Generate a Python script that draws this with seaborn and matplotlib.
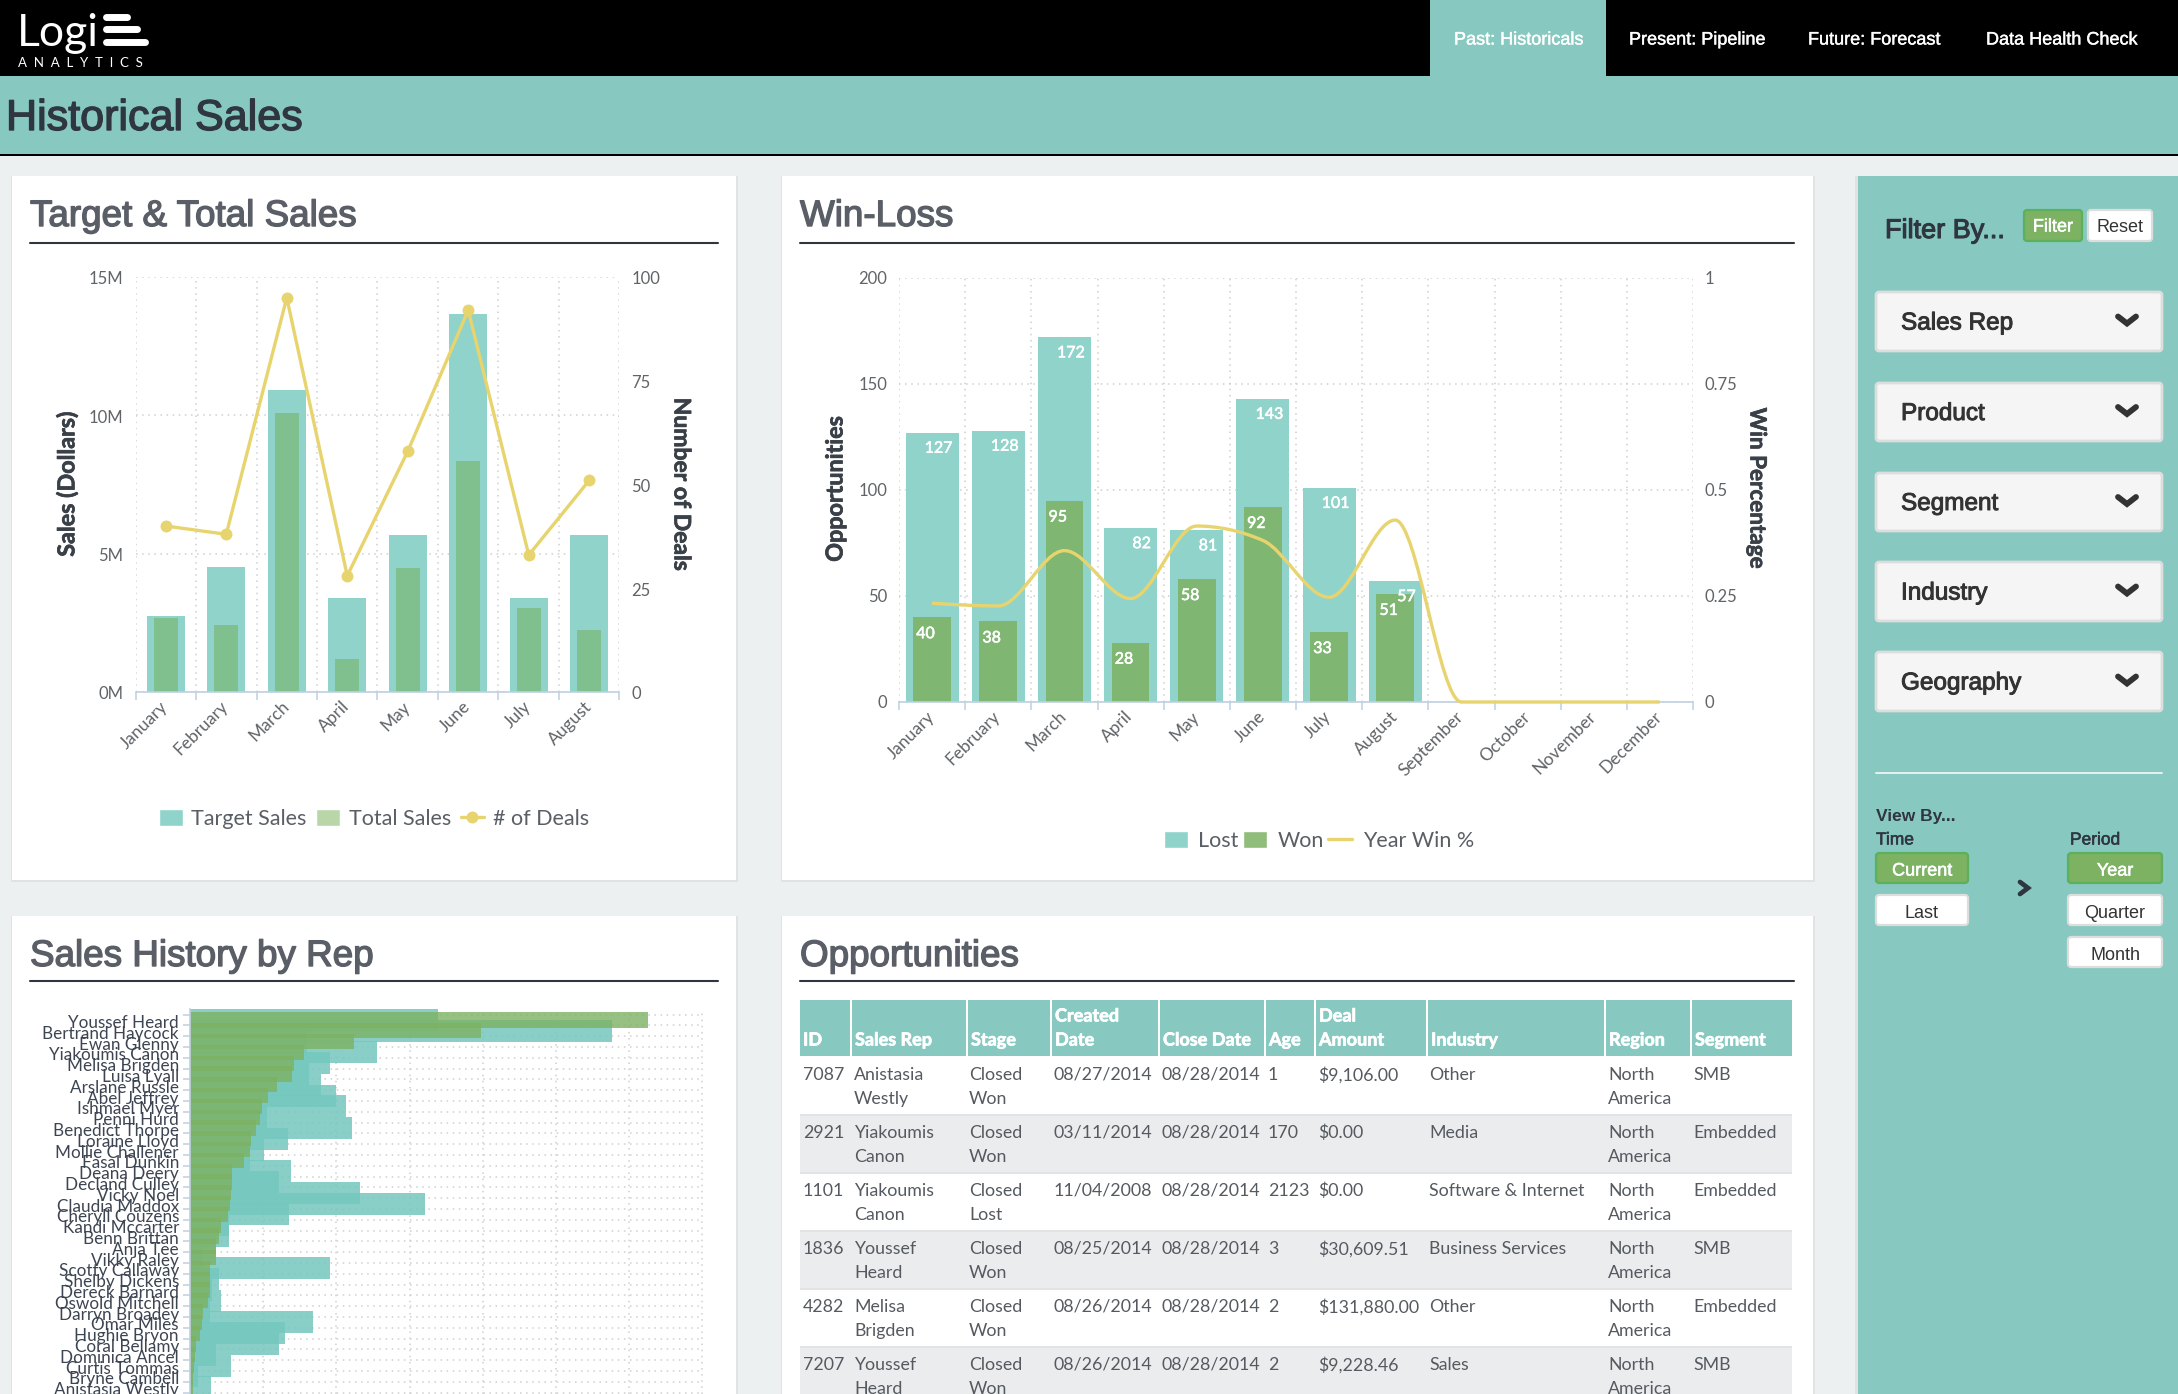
import numpy as np
import pandas as pd
import matplotlib
matplotlib.use("Agg")
import matplotlib.pyplot as plt
import matplotlib.patheffects as pe
from matplotlib.patches import Rectangle, FancyBboxPatch, Patch, PathPatch
from matplotlib.path import Path
from matplotlib.lines import Line2D
from matplotlib.transforms import ScaledTranslation
import seaborn as sns

# ---------- data ----------
months = ["January", "February", "March", "April", "May", "June", "July", "August",
          "September", "October", "November", "December"]
target_sales = [2.73, 4.51, 10.93, 3.38, 5.67, 13.66, 3.38, 5.67]
total_sales = [2.69, 2.41, 10.10, 1.19, 4.47, 8.36, 3.02, 2.25]
num_deals = [40, 38, 95, 28, 58, 92, 33, 51]
lost = [127, 128, 172, 82, 81, 143, 101, 57, 0, 0, 0, 0]
won = [40, 38, 95, 28, 58, 92, 33, 51, 0, 0, 0, 0]
win_pct = [0.233, 0.2265, 0.357, 0.244, 0.415, 0.381, 0.247, 0.429, 0, 0, 0, 0]
reps = ["Youssef Heard", "Bertrand Haycock", "Ewan Glenny", "Yiakoumis Canon", "Melisa Brigden",
        "Luisa Lyall", "Arslane Russle", "Abel Jeffrey", "Ishmael Myer", "Penni Hurd",
        "Benedict Thorpe", "Loraine Lloyd", "Mollie Challener", "Fasal Dunkin", "Deana Deery",
        "Decland Culley", "Vicky Noel", "Claudia Maddox", "Cheryll Couzens", "Kandi Mccarter",
        "Benn Brittan", "Anja Tee", "Vikky Raley", "Scotty Callaway", "Shelby Dickens",
        "Dereck Barnard", "Oswold Mitchell", "Darryn Broadey", "Omar Miles", "Hughie Bryon",
        "Coral Bellamy", "Dominica Ancel", "Curtis Tommas", "Bryne Cambell", "Anistasia Westly"]
rep_target = [6.77, 11.54, 3.19, 5.10, 3.82, 3.25, 3.57, 3.99, 4.26, 2.10, 4.43, 2.67, 2.01, 1.64,
              2.76, 2.43, 4.65, 6.41, 2.71, 1.06, 1.07, 0.71, 0.35, 3.82, 0.79, 0.61, 0.86, 0.54,
              3.37, 2.59, 2.43, 0.71, 1.11, 0.21, 0.57]
rep_total = [12.52, 7.96, 4.48, 3.12, 2.84, 2.80, 2.39, 2.14, 1.97, 1.90, 1.81, 1.68, 1.65, 1.48,
             1.16, 1.16, 1.12, 1.08, 1.03, 0.84, 0.80, 0.71, 0.71, 0.54, 0.54, 0.54, 0.50, 0.35,
             0.32, 0.28, 0.17, 0.13, 0.12, 0.09, 0.08]
table_header = ["ID", "Sales Rep", "Stage", "Created\nDate", "Close Date", "Age", "Deal\nAmount",
                "Industry", "Region", "Segment"]
table_rows = [
    ["7087", "Anistasia\nWestly", "Closed\nWon", "08/27/2014", "08/28/2014", "1", "$9,106.00",
     "Other", "North\nAmerica", "SMB"],
    ["2921", "Yiakoumis\nCanon", "Closed\nWon", "03/11/2014", "08/28/2014", "170", "$0.00",
     "Media", "North\nAmerica", "Embedded"],
    ["1101", "Yiakoumis\nCanon", "Closed\nLost", "11/04/2008", "08/28/2014", "2123", "$0.00",
     "Software & Internet", "North\nAmerica", "Embedded"],
    ["1836", "Youssef\nHeard", "Closed\nWon", "08/25/2014", "08/28/2014", "3", "$30,609.51",
     "Business Services", "North\nAmerica", "SMB"],
    ["4282", "Melisa\nBrigden", "Closed\nWon", "08/26/2014", "08/28/2014", "2", "$131,880.00",
     "Other", "North\nAmerica", "Embedded"],
    ["7207", "Youssef\nHeard", "Closed\nWon", "08/26/2014", "08/28/2014", "2", "$9,228.46",
     "Sales", "North\nAmerica", "SMB"],
]
nav_items = ["Past: Historicals", "Present: Pipeline", "Future: Forecast", "Data Health Check"]
filters = ["Sales Rep", "Product", "Segment", "Industry", "Geography"]

# ---------- style ----------
W, H = 2178, 1394
TEAL = "#87C9C1"
BG = "#ECF0F1"
DARK = "#2F3640"
TITLE = "#5A5E66"
GRID = "#CFCFCF"
AXIS = "#C0D0E0"
TICK = "#606468"
BAR_TEAL = "#8FD3CB"
GREEN = "#73AD53"
WON = "#7DB263"
YEL = "#E8D46F"

sns.set_theme(style="white")
plt.rcParams["font.family"] = ["Lato", "DejaVu Sans"]
HV = ["Liberation Sans", "DejaVu Sans"]
DOT = (0, (1, 3))

fig = plt.figure(figsize=(W / 100, H / 100), dpi=100, facecolor=BG)


def axpx(l, t, r, b):
    a = fig.add_axes([l / W, 1 - b / H, (r - l) / W, (b - t) / H])
    a.patch.set_alpha(0)
    return a


ov = fig.add_axes([0, 0, 1, 1], zorder=0)
ov.set_xlim(0, W)
ov.set_ylim(H, 0)
ov.axis("off")


def rect(x0, y0, x1, y1, fc, ec="none", lw=0, z=1):
    ov.add_patch(Rectangle((x0, y0), x1 - x0, y1 - y0, fc=fc, ec=ec, lw=lw, zorder=z))


def rbox(x0, y0, x1, y1, fc, ec, lw=1.6, r=3, z=2):
    ov.add_patch(FancyBboxPatch((x0 + r, y0 + r), x1 - x0 - 2 * r, y1 - y0 - 2 * r,
                                boxstyle=f"round,pad={r},rounding_size={r}", fc=fc, ec=ec, lw=lw, zorder=z))


def htext(x, y, s, size, color=DARK, stroke=0.0, ha="left", weight="normal", fam=HV):
    t = ov.text(x, y + 3, s, fontsize=size, color=color, ha=ha, va="center", family=fam, weight=weight, zorder=5)
    if stroke:
        t.set_path_effects([pe.withStroke(linewidth=stroke, foreground=color)])
    return t


def shift_labels(labels, dx, dy):
    off = ScaledTranslation(dx / 100, -dy / 100, fig.dpi_scale_trans)
    for lb in labels:
        lb.set_transform(lb.get_transform() + off)


# ---------- page chrome ----------
rect(0, 0, W, 76, "black")
rect(0, 76, W, 154, TEAL)
rect(0, 154, W, 156, "black")
rect(1430, 0, 1606, 76, TEAL)
for s, x in zip(nav_items, [1454, 1629, 1808, 1986]):
    htext(x, 37, s, 13, color="white", stroke=0.3)
htext(6, 116, "Historical Sales", 31, stroke=1.0)

ov.text(17, 33, "Logi", fontsize=32, color="white", va="center", ha="left", family="Lato", zorder=5)
for x1, y in zip([127, 137, 145], [17, 29, 42]):
    ov.add_line(Line2D([106, x1], [y, y], color="white", lw=5, solid_capstyle="round", zorder=5))
ov.text(18, 63, "A  N  A  L  Y  T  I  C  S", fontsize=9.5, color="white", va="center", ha="left", family="Lato", zorder=5)

# cards
for x0, y0, x1, y1 in [(12, 176, 736, 880), (782, 176, 1813, 880),
                       (12, 916, 736, H + 10), (782, 916, 1813, H + 10)]:
    rect(x0 - 1, y0, x1 + 2, y1 + 2, "#DFE3E4")
    rect(x0, y0, x1, y1, "white", z=1.5)
for s, x, y, xr, yr in [("Target & Total Sales", 30, 213.5, 718, 243), ("Win-Loss", 800, 213.5, 1794, 243),
                        ("Sales History by Rep", 30, 953.5, 718, 981), ("Opportunities", 800, 953.5, 1794, 981)]:
    htext(x, y, s, 26.5, color=TITLE, stroke=1.0)
    ov.add_line(Line2D([x, xr], [yr, yr], color=DARK, lw=1.5, zorder=3))

# ---------- filter panel ----------
rect(1855, 176, 1858, H, "#DFE3E4")
rect(1858, 176, W, H, TEAL)
htext(1885, 228, "Filter By...", 19.5, stroke=0.8)
rbox(2024, 210, 2082, 241, "#7DB263", "#5CB05C")
htext(2053, 224, "Filter", 13, color="white", ha="center", stroke=0.4)
rbox(2088, 210, 2152, 241, "white", "#DDDDDD")
htext(2120, 224, "Reset", 13, color="#333333", ha="center")
for s, (y0, y1) in zip(filters, [(292, 351), (383, 441), (473, 531), (562, 621), (652, 711)]):
    rbox(1876, y0, 2162, y1, "#F5F5F5", "#DDDDDD", lw=2)
    yc = (y0 + y1) / 2
    htext(1901, yc - 1, s, 17.5, color="#333333", stroke=0.7)
    ov.add_line(Line2D([2118, 2127, 2136], [yc - 5, yc + 2, yc - 5], color="#333333", lw=4.2,
                       solid_joinstyle="miter", zorder=5))
ov.add_line(Line2D([1876, 2162], [773, 773], color="#E6F2F0", lw=1.4, zorder=3))
htext(1876, 814, "View By...", 12.5, weight="bold")
htext(1876, 837, "Time", 12.5, stroke=0.4)
htext(2070, 837, "Period", 12.5, stroke=0.4)
for s, x0, x1, y0, y1, on in [("Current", 1876, 1968, 853, 883, True), ("Last", 1876, 1968, 895, 925, False),
                              ("Year", 2068, 2162, 853, 883, True), ("Quarter", 2068, 2162, 895, 925, False),
                              ("Month", 2068, 2162, 937, 967, False)]:
    rbox(x0, y0, x1, y1, "#7DB263" if on else "white", "#5CB05C" if on else "#DDDDDD")
    htext((x0 + x1) / 2, (y0 + y1) / 2, s, 13, color="white" if on else "#333333", ha="center", stroke=0.4 if on else 0)
ov.add_line(Line2D([2020, 2028, 2020], [882, 888, 894], color=DARK, lw=3.4, solid_joinstyle="miter", zorder=5))


def base_axis(a):
    for sp in ["top", "left", "right"]:
        a.spines[sp].set_visible(False)
    a.spines["bottom"].set_color(AXIS)
    a.spines["bottom"].set_linewidth(1.2)


def finish_months(a, n):
    a.set_xlim(-0.5, n - 0.5)
    a.set_xticks(range(n))
    a.set_xticklabels(months[:n], rotation=45, ha="right", rotation_mode="anchor", fontsize=12.5, color=TICK)
    a.set_xticks(np.arange(-0.5, n), minor=True)
    a.tick_params(axis="x", which="major", length=0, pad=6)
    a.tick_params(axis="x", which="minor", length=6, width=1.1, color=AXIS, bottom=True)
    shift_labels(a.get_xticklabels(), -6, -2)
    a.grid(False)
    a.grid(True, which="minor", axis="x", color=GRID, ls=DOT, lw=1.1)
    a.grid(True, which="major", axis="y", color=GRID, ls=DOT, lw=1.1)
    a.set_axisbelow(True)
    a.set_xlabel("")
    a.set_ylabel("")


def side_text(x, y, s, size, rot):
    t = ov.text(x, y, s, fontsize=size, color="#3A4048", weight="bold", rotation=rot, ha="center", va="center",
                family="Lato", zorder=5)
    t.set_path_effects([pe.withStroke(linewidth=0.5, foreground="#3A4048")])


# ---------- Target & Total Sales ----------
ax1 = axpx(135.5, 277, 619.5, 692)
base_axis(ax1)
sns.barplot(x=months[:8], y=target_sales, ax=ax1, color=BAR_TEAL, saturation=1, width=0.62, linewidth=0)
sns.barplot(x=months[:8], y=total_sales, ax=ax1, color=GREEN, saturation=1, width=0.39, alpha=0.5, linewidth=0)
finish_months(ax1, 8)
ax1.set_ylim(0, 15)
ax1.set_yticks([0, 5, 10, 15])
ax1.set_yticklabels(["0M", "5M", "10M", "15M"], fontsize=12, color=TICK)
ax1.tick_params(axis="y", length=0, pad=8.6)
shift_labels(ax1.get_yticklabels(), 0, 1)
ax1b = ax1.twinx()
ax1b.patch.set_alpha(0)
for sp in ax1b.spines.values():
    sp.set_visible(False)
sns.lineplot(x=np.arange(8), y=num_deals, ax=ax1b, color=YEL, lw=2.4, marker="o", markersize=8.6,
             markeredgewidth=0, sort=False, errorbar=None)
ax1b.set_ylim(0, 100)
ax1b.set_yticks([0, 25, 50, 75, 100])
ax1b.set_yticklabels(["0", "25", "50", "75", "100"], fontsize=12, color=TICK)
ax1b.tick_params(axis="y", length=0, pad=8.6)
shift_labels(ax1b.get_yticklabels(), 0, 1)
ax1b.set_ylabel("")
ax1b.grid(False)
side_text(67.5, 484, "Sales (Dollars)", 16.8, 90)
side_text(681, 484, "Number of Deals", 16.5, 270)
fig.legend(handles=[Patch(fc=BAR_TEAL, label="Target Sales"), Patch(fc="#B9D6A9", label="Total Sales"),
                    Line2D([], [], color=YEL, lw=2.4, marker="o", ms=8.6, mew=0, label="# of Deals")],
           loc="center", bbox_to_anchor=(374 / W, 1 - 819 / H), ncol=3, frameon=False, fontsize=15.5,
           labelcolor="#5A5F66", handlelength=1.1, handleheight=0.85, handletextpad=0.4, columnspacing=0.45,
           borderpad=0)

# ---------- Win-Loss ----------
ax2 = axpx(899, 278, 1693, 702)
base_axis(ax2)
sns.barplot(x=months, y=lost, ax=ax2, color=BAR_TEAL, saturation=1, width=0.8, linewidth=0)
sns.barplot(x=months, y=won, ax=ax2, color=WON, saturation=1, width=0.57, alpha=0.85, linewidth=0)
finish_months(ax2, 12)
ax2.set_ylim(0, 200)
ax2.set_yticks([0, 50, 100, 150, 200])
ax2.tick_params(axis="y", length=0, pad=8.6, labelsize=12, labelcolor=TICK)
shift_labels(ax2.get_yticklabels(), 0, 0)
for i in range(8):
    a1 = ax2.annotate(str(lost[i]), xy=(i + 0.4, lost[i]), xytext=(-6, -16), textcoords="offset pixels", ha="right",
                      va="center", color="white", fontsize=11.5, zorder=6)
    a2 = ax2.annotate(str(won[i]), xy=(i - 0.285, won[i]), xytext=(3, -17), textcoords="offset pixels", ha="left",
                      va="center", color="white", fontsize=11.5, zorder=6)
    for a_ in (a1, a2):
        a_.set_path_effects([pe.withStroke(linewidth=0.4, foreground="white")])
ax2b = ax2.twinx()
ax2b.patch.set_alpha(0)
for sp in ax2b.spines.values():
    sp.set_visible(False)


def monotone_curve(y):
    """Cubic Bezier path through the values, flat at local extrema (as the original chart draws it)."""
    y = np.asarray(y, float)
    s = np.diff(y)
    t = np.zeros_like(y)
    for i in range(1, len(y) - 1):
        t[i] = (np.sign(s[i - 1]) + np.sign(s[i])) * min(abs(s[i - 1]), abs(s[i]), 0.25 * abs(s[i - 1] + s[i]))
    t[0] = (3 * s[0] - t[1]) / 2
    t[-1] = (3 * s[-1] - t[-2]) / 2
    verts, codes = [(0, y[0])], [Path.MOVETO]
    for i in range(len(y) - 1):
        verts += [(i + 1 / 3, y[i] + t[i] / 3), (i + 2 / 3, y[i + 1] - t[i + 1] / 3), (i + 1, y[i + 1])]
        codes += [Path.CURVE4] * 3
    return Path(verts, codes)


ax2b.add_patch(PathPatch(monotone_curve(win_pct), fc="none", ec=YEL, lw=2.4, clip_on=False, zorder=5))
ax2b.set_ylim(0, 1)
ax2b.set_yticks([0, 0.25, 0.5, 0.75, 1])
ax2b.set_yticklabels(["0", "0.25", "0.5", "0.75", "1"], fontsize=12, color=TICK)
ax2b.tick_params(axis="y", length=0, pad=8)
ax2b.grid(False)
side_text(836, 489, "Opportunities", 16.8, 90)
side_text(1757, 488, "Win Percentage", 16.2, 270)
fig.legend(handles=[Patch(fc=BAR_TEAL, label="Lost"), Patch(fc="#90BD7A", label="Won"),
                    Line2D([], [], color=YEL, lw=2.4, label="Year Win %")],
           loc="center", bbox_to_anchor=(1319 / W, 1 - 841 / H), ncol=3, frameon=False, fontsize=15.5,
           labelcolor="#5A5F66", handlelength=1.1, handleheight=0.85, handletextpad=0.5, columnspacing=0.2,
           borderpad=0)

# ---------- Sales History by Rep ----------
ax3 = axpx(190, 1009, 703, 1394)
for sp in ["top", "right", "bottom"]:
    ax3.spines[sp].set_visible(False)
ax3.spines["left"].set_color(AXIS)
ax3.spines["left"].set_linewidth(1.2)
sns.barplot(x=rep_target, y=reps, ax=ax3, orient="y", color="#74C7BD", saturation=1, width=2.04, alpha=0.85, linewidth=0)
sns.barplot(x=rep_total, y=reps, ax=ax3, orient="y", color=WON, saturation=1, width=1.42, alpha=0.8, linewidth=0)
ax3.set_xlim(0, 14.02)
ax3.set_ylim(34.63, -1.02)
ax3.set_xticks(np.arange(0, 15, 2))
ax3.set_xticklabels([])
ax3.set_yticks(range(len(reps)))
ax3.set_yticklabels(reps, fontsize=12.3, color="#3D4552")
ax3.set_yticks(np.arange(-0.5, len(reps)), minor=True)
ax3.tick_params(axis="x", length=0)
ax3.tick_params(axis="y", which="major", length=0, pad=8)
ax3.tick_params(axis="y", which="minor", length=5, width=1.1, color=AXIS, left=True)
shift_labels(ax3.get_yticklabels(), 0, 1.5)
ax3.grid(False)
ax3.grid(True, which="major", axis="x", color=GRID, ls=DOT, lw=1.1)
ax3.grid(True, which="minor", axis="y", color=GRID, ls=DOT, lw=1.1)
ax3.set_axisbelow(True)
ax3.set_xlabel("")
ax3.set_ylabel("")

# ---------- Opportunities table ----------
col_edges = [(800, 850), (852, 966), (968, 1050), (1052, 1158), (1160, 1264), (1266, 1314), (1316, 1426),
             (1428, 1604), (1606, 1690), (1692, 1792)]
head_x = [803, 855, 971, 1055, 1163, 1269, 1319, 1431, 1609, 1695]
cell_x = [803, 854, 969, 1054, 1161, 1268, 1318, 1429, 1608, 1693]
rect(800, 1056, 1792, 1058, "#E2E3E5")
for (x0, x1), x, s in zip(col_edges, head_x, table_header):
    rect(x0, 1000, x1, 1056, TEAL, z=2)
    lines = s.split("\n")
    ys = [1040] if len(lines) == 1 else [1016, 1040]
    for yy, ln in zip(ys, lines):
        t = ov.text(x, yy, ln, fontsize=13, color="white", weight="bold", va="center", ha="left", family="Lato", zorder=5)
        t.set_path_effects([pe.withStroke(linewidth=0.5, foreground="white")])
for r, row in enumerate(table_rows):
    top = 1058 + 58 * r
    if r % 2 == 1:
        rect(800, top, 1792, top + 58, "#EBECEE", z=2)
    if r > 0:
        rect(800, top - 2, 1792, top, "#E2E3E5", z=3)
    for x, s in zip(cell_x, row):
        for k, ln in enumerate(s.split("\n")):
            ov.text(x, top + 17 + 24 * k, ln, fontsize=12.8, color="#555A60", va="center", ha="left", family="Lato",
                    zorder=5)

fig.savefig("out.png", dpi=100, facecolor=BG)
